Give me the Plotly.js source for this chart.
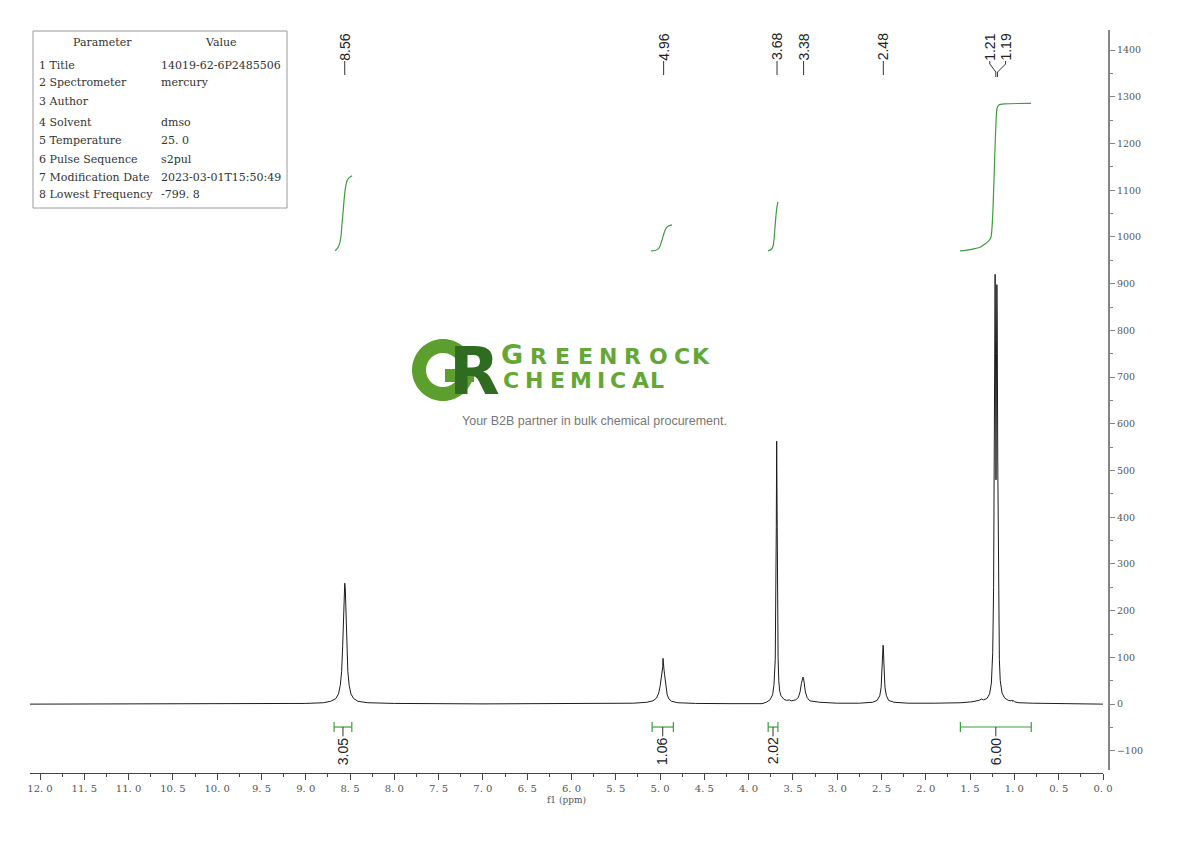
<!DOCTYPE html>
<html>
<head>
<meta charset="utf-8">
<script src="https://cdn.plot.ly/plotly-3.0.1.min.js"></script>
<style>html,body{margin:0;padding:0;background:#fff;}#chart{width:1190px;height:841px;}</style>
</head>
<body>
<div id="chart"></div>
<script>
// ---------------- DATA ----------------
// 1H NMR spectrum (ppm, intensity)
const specPpm = [12.113,9.5,9.0,8.80,8.72,8.66,8.63,8.61,8.595,8.583,8.574,8.566,8.560,8.554,8.546,8.537,8.525,8.51,8.49,8.46,8.41,8.30,8.00,7.0,
  5.6,5.30,5.15,5.08,5.04,5.015,5.00,4.99,4.982,4.975,4.970,4.967,4.964,4.960,4.956,4.950,4.943,4.935,4.92,4.90,4.87,4.80,4.60,
  4.2,3.90,3.85,3.80,3.76,3.73,3.715,3.70,3.693,3.688,3.684,3.680,3.675,3.668,3.66,3.65,3.635,3.625,3.615,3.60,3.57,3.54,3.52,
  3.47,3.44,3.42,3.405,3.395,3.387,3.38,3.373,3.36,3.34,3.31,3.20,3.00,
  2.75,2.60,2.55,2.52,2.505,2.495,2.487,2.483,2.479,2.471,2.461,2.445,2.42,2.36,2.2,
  1.9,1.6,1.48,1.40,1.37,1.35,1.31,1.28,1.26,1.245,1.235,1.227,1.221,1.218,1.214,1.208,1.202,1.198,1.194,1.188,1.180,1.170,1.16,1.14,1.11,1.07,1.04,1.03,1.02,1.015,1.00,0.95,0.8,0.5,0.0];
const specInt = [0,0.5,1.5,3,6,12,22,40,70,125,200,248,259,248,200,125,70,40,22,12,6,3,1.5,0.5,
  1,2,4,7,13,24,38,52,66,74,80,98,76,82,74,64,50,35,20,11,6,3,1.5,
  1,2,1,4,9,20,40,95,200,380,563,430,230,100,50,28,18,16,12,10,8,9,7,
  9,14,26,44,55,58,55,44,26,14,7,4,2,
  2,4,8,18,35,75,120,126,120,75,35,18,8,4,2,
  2,3,5,8,11,9,12,22,45,110,250,560,860,920,780,480,750,898,820,520,230,95,50,24,13,8,7,9,6,8,5,3,2,1,0];

// integral curves (ppm, integral value)
const integralPpm = [
  [8.669,8.635,8.612,8.601,8.590,8.578,8.567,8.556,8.544,8.533,8.510,8.477],
  [5.103,5.058,5.024,5.001,4.979,4.956,4.934,4.911,4.866],
  [3.782,3.748,3.725,3.714,3.703,3.692,3.680,3.669],
  [1.614,1.501,1.389,1.332,1.287,1.264,1.253,1.242,1.231,1.219,1.208,1.197,1.174,1.106,0.813]
];
const integralVal = [
  [970,978,990,1004,1030,1055,1080,1100,1113,1121,1127,1131],
  [970,971,974,980,993,1008,1018,1023,1026],
  [970,973,980,995,1020,1045,1065,1075],
  [970,973,978,985,992,1000,1020,1060,1120,1190,1245,1275,1283,1285,1286]
];

// integration regions
const intFrom  = [8.68, 5.09, 3.78, 1.61];
const intTo    = [8.48, 4.85, 3.67, 0.81];
const intLabel = ['3.05', '1.06', '2.02', '6.00'];

// peak picks
const peakPpm   = [8.56, 4.96, 3.68, 3.38, 2.48, 1.21, 1.19];
const peakLabel = ['8.56', '4.96', '3.68', '3.38', '2.48', '1.21', '1.19'];

// axis ticks
const xTickVals = [12,11.5,11,10.5,10,9.5,9,8.5,8,7.5,7,6.5,6,5.5,5,4.5,4,3.5,3,2.5,2,1.5,1,0.5,0];
const xTickText = ['12. 0','11. 5','11. 0','10. 5','10. 0','9. 5','9. 0','8. 5','8. 0','7. 5','7. 0','6. 5','6. 0','5. 5','5. 0','4. 5','4. 0','3. 5','3. 0','2. 5','2. 0','1. 5','1. 0','0. 5','0. 0'];

// parameter table
const tableParams = ['1 Title','2 Spectrometer','3 Author','4 Solvent','5 Temperature','6 Pulse Sequence','7 Modification Date','8 Lowest Frequency'];
const tableValues = ['14019-62-6P2485506','mercury','','dmso','25. 0','s2pul','2023-03-01T15:50:49','-799. 8'];

// watermark text
const logoLine1 = 'GREENROCK';
const logoLine2 = 'CHEMICAL';
const tagline = 'Your B2B partner in bulk chemical procurement.';

// ---------------- LAYOUT HELPERS ----------------
const ML = 30, MR = 81, MT = 30, MB = 68, W = 1190, H = 841;
const PW = W - ML - MR, PH = H - MT - MB;
const PX = px => (px - ML) / PW;
const PY = py => (H - MB - py) / PH;
const XR = [12.113, 0];
const xPix = ppm => ML + (XR[0] - ppm) / (XR[0] - XR[1]) * 1073;

const green = '#3f9c3f';
const traces = [{
  x: specPpm, y: specInt, type: 'scatter', mode: 'lines',
  line: {color: '#1c1c1c', width: 1}, hoverinfo: 'skip'
}];
integralPpm.forEach((xs, i) => traces.push({
  x: xs, y: integralVal[i], type: 'scatter', mode: 'lines',
  line: {color: green, width: 1.2, shape: 'spline', smoothing: 0.6}, hoverinfo: 'skip'
}));

const shapes = [];
const annotations = [];

// integration bars
const barY = -49, capH = 10.5, stubEnd = -69;
intFrom.forEach((f, i) => {
  const t = intTo[i], c = (f + t) / 2;
  shapes.push({type: 'line', xref: 'x', yref: 'y', x0: f, x1: t, y0: barY, y1: barY, line: {color: green, width: 1.2}});
  shapes.push({type: 'line', xref: 'x', yref: 'y', x0: f, x1: f, y0: barY - capH, y1: barY + capH, line: {color: green, width: 1.2}});
  shapes.push({type: 'line', xref: 'x', yref: 'y', x0: t, x1: t, y0: barY - capH, y1: barY + capH, line: {color: green, width: 1.2}});
  shapes.push({type: 'line', xref: 'x', yref: 'y', x0: c, x1: c, y0: barY, y1: stubEnd, line: {color: '#333', width: 1}});
  annotations.push({xref: 'x', yref: 'y', x: c, y: -101, text: intLabel[i], showarrow: false, textangle: -90,
    xanchor: 'center', yanchor: 'middle', font: {family: 'Liberation Sans, Arial, sans-serif', size: 14, color: '#222'}});
});

// peak labels
const labelShiftPx = [0, 0, 0, 0, 0, -6, 8];
peakPpm.forEach((p, i) => {
  const pxPeak = xPix(p);
  const pxLab = pxPeak + labelShiftPx[i];
  annotations.push({xref: 'paper', yref: 'paper', x: PX(pxLab), y: PY(47), text: peakLabel[i], showarrow: false, textangle: -90,
    xanchor: 'center', yanchor: 'middle', font: {family: 'Liberation Sans, Arial, sans-serif', size: 14, color: '#222'}});
  if (labelShiftPx[i] === 0) {
    shapes.push({type: 'line', xref: 'paper', yref: 'paper', x0: PX(pxPeak), x1: PX(pxPeak), y0: PY(61), y1: PY(75), line: {color: '#333', width: 1}});
  } else {
    const path = `M ${PX(pxLab)} ${PY(61)} L ${PX(pxLab)} ${PY(64)} L ${PX(pxPeak)} ${PY(72)} L ${PX(pxPeak)} ${PY(77)}`;
    shapes.push({type: 'path', xref: 'paper', yref: 'paper', path: path, line: {color: '#333', width: 1}});
  }
});

// parameter table
shapes.push({type: 'rect', xref: 'paper', yref: 'paper', x0: PX(33), x1: PX(287), y0: PY(31), y1: PY(208), line: {color: '#9a9a9a', width: 1}, fillcolor: 'rgba(255,255,255,0)'});
const tFont = {family: 'DejaVu Serif, Liberation Serif, serif', size: 11, color: '#333'};
annotations.push({xref: 'paper', yref: 'paper', x: PX(102), y: PY(43), text: 'Parameter', showarrow: false, xanchor: 'center', yanchor: 'middle', font: tFont});
annotations.push({xref: 'paper', yref: 'paper', x: PX(221), y: PY(43), text: 'Value', showarrow: false, xanchor: 'center', yanchor: 'middle', font: tFont});
const rowY = [65, 83, 101, 123, 141, 159, 177, 195];
tableParams.forEach((p, i) => {
  annotations.push({xref: 'paper', yref: 'paper', x: PX(37), y: PY(rowY[i]), text: p, showarrow: false, xanchor: 'left', yanchor: 'middle', font: tFont});
  if (tableValues[i]) annotations.push({xref: 'paper', yref: 'paper', x: PX(159), y: PY(rowY[i]), text: tableValues[i], showarrow: false, xanchor: 'left', yanchor: 'middle', font: tFont});
});

// watermark logo: round "G" emblem drawn as a shape, "R" as text over it
(function () {
  const cx = 443, cy = 370, ro = 31, ri = 17, a0 = 38, a1 = 360;
  const pts = [];
  for (let a = a0; a <= a1; a += 4) { const r = a * Math.PI / 180; pts.push([cx + ro * Math.cos(r), cy - ro * Math.sin(r)]); }
  for (let a = a1; a >= a0; a -= 4) { const r = a * Math.PI / 180; pts.push([cx + ri * Math.cos(r), cy - ri * Math.sin(r)]); }
  let d = pts.map((p, k) => (k ? 'L ' : 'M ') + PX(p[0]) + ' ' + PY(p[1])).join(' ') + ' Z';
  shapes.push({type: 'path', xref: 'paper', yref: 'paper', path: d, fillcolor: '#5d9f2f', line: {width: 0}});
  shapes.push({type: 'rect', xref: 'paper', yref: 'paper', x0: PX(cx + 2), x1: PX(cx + ro), y0: PY(cy - 1), y1: PY(cy + 12), fillcolor: '#5d9f2f', line: {width: 0}});
})();
annotations.push({xref: 'paper', yref: 'paper', x: PX(474), y: PY(371), text: 'R', showarrow: false, xanchor: 'center', yanchor: 'middle',
  font: {family: 'DejaVu Sans, sans-serif', size: 66, weight: 700, color: '#2f6b21'}});
const l1X = [512, 538, 562, 585, 608, 633, 658, 682, 701];
const l2X = [511, 534, 557, 581, 601, 618, 640, 657];
const logoGreen = '#64a734';
logoLine1.split('').forEach((ch, i) => annotations.push({xref: 'paper', yref: 'paper', x: PX(l1X[i]), y: PY(i === 0 ? 354 : 356), text: ch, showarrow: false,
  xanchor: 'center', yanchor: 'middle', font: {family: 'DejaVu Sans, sans-serif', size: i === 0 ? 27 : 22, weight: 700, color: logoGreen}}));
logoLine2.split('').forEach((ch, i) => annotations.push({xref: 'paper', yref: 'paper', x: PX(l2X[i]), y: PY(380), text: ch, showarrow: false,
  xanchor: 'center', yanchor: 'middle', font: {family: 'DejaVu Sans, sans-serif', size: 22, weight: 700, color: logoGreen}}));
annotations.push({xref: 'paper', yref: 'paper', x: PX(594.5), y: PY(421), text: tagline, showarrow: false, xanchor: 'center', yanchor: 'middle',
  font: {family: 'Liberation Sans, Arial, sans-serif', size: 12.5, color: '#777'}});

const layout = {
  width: W, height: H,
  margin: {l: ML, r: MR, t: MT, b: MB, pad: 0},
  paper_bgcolor: '#ffffff', plot_bgcolor: '#ffffff',
  showlegend: false,
  xaxis: {
    range: XR, autorange: false, domain: [0, 1073 / PW], anchor: 'free', position: 0,
    showgrid: false, zeroline: false, showline: true, linecolor: '#444', linewidth: 1,
    ticks: 'outside', ticklen: 6, tickwidth: 1, tickcolor: '#444',
    tickmode: 'array', tickvals: xTickVals, ticktext: xTickText,
    tickfont: {family: 'DejaVu Serif, Liberation Serif, serif', size: 10, color: '#555'},
    minor: {dtick: 0.25, tick0: 0, ticks: 'outside', ticklen: 3, tickcolor: '#444', showgrid: false},
    title: {text: 'f1 (ppm)', standoff: 3, font: {family: 'DejaVu Serif, Liberation Serif, serif', size: 9, color: '#555'}},
    automargin: false, fixedrange: true
  },
  yaxis: {
    range: [-141, 1443], autorange: false, domain: [3 / PH, 1], side: 'right', anchor: 'free', position: 1,
    showgrid: false, zeroline: false, showline: true, linecolor: '#858585', linewidth: 2,
    ticks: 'outside', ticklen: 5, tickwidth: 1, tickcolor: '#858585', dtick: 100, tick0: 0,
    tickfont: {family: 'DejaVu Serif, Liberation Serif, serif', size: 9.5, color: '#555'},
    minor: {dtick: 50, ticks: 'outside', ticklen: 3, tickcolor: '#858585', showgrid: false},
    automargin: false, fixedrange: true
  },
  shapes: shapes,
  annotations: annotations
};

Plotly.newPlot('chart', traces, layout, {displayModeBar: false, staticPlot: true});
</script>
</body>
</html>
